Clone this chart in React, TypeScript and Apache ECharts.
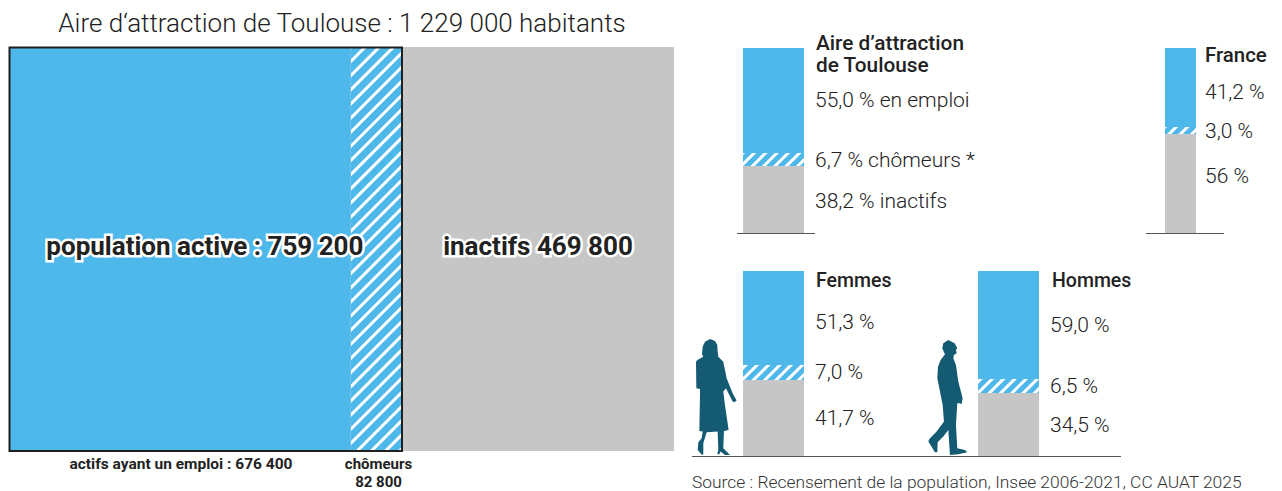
import React, { useEffect, useRef } from "react";
import * as echarts from "echarts";

// Segment shares as drawn in the picture (employed, unemployed, inactive)
const mainShares = [51.4, 7.7, 40.9];
const toulouseShares = [56.8, 7.0, 36.2];
const franceShares = [42.7, 3.8, 53.5];
const femmesShares = [50.8, 8.1, 41.1];
const hommesShares = [58.4, 7.6, 34.0];

// Printed labels
const chartTitle = "Aire d‘attraction de Toulouse : 1 229 000 habitants";
const mainActiveLabel = "population active : 759 200";
const mainInactiveLabel = "inactifs 469 800";
const employedCaption = "actifs ayant un emploi : 676 400";
const unemployedCaption = "chômeurs\n82 800";
const toulouseLabels = ["55,0 % en emploi", "6,7 % chômeurs *", "38,2 % inactifs"];
const franceLabels = ["41,2 %", "3,0 %", "56 %"];
const femmesLabels = ["51,3 %", "7,0 %", "41,7 %"];
const hommesLabels = ["59,0 %", "6,5 %", "34,5 %"];
const toulouseTitle = "Aire d’attraction\nde Toulouse";
const franceTitle = "France";
const femmesTitle = "Femmes";
const hommesTitle = "Hommes";
const sourceText = "Source : Recensement de la population, Insee 2006-2021, CC AUAT 2025";

const BLUE = "#4FB8EA";
const GREY = "#C6C6C6";
const INK = "#222222";
const TEAL = "#155A73";
const FONT = "Roboto";

const womanPath =
  "M60 12 L45 20 L38 35 L36 58 L40 65 L22 75 L18 80 L19 160 L30 162 L30 180 L28 288 L38 290 L35 310 L25 322 L23 345 L36 360 L40 358 L40 325 L50 292 L83 290 L85 345 L82 358 L88 358 L92 350 L105 360 L120 360 L112 352 L100 340 L102 288 L116 285 L105 210 L100 170 L108 160 L123 190 L128 200 L133 202 L140 197 L128 175 L110 130 L100 80 L85 65 L83 50 L82 30 L75 18 Z";
const manPath =
  "M85 15 L70 25 L67 40 L72 52 L75 58 L62 75 L54 95 L52 130 L60 170 L68 210 L72 260 L50 290 L28 312 L25 320 L45 352 L52 352 L53 322 L70 305 L85 285 L90 360 L115 358 L142 352 L135 345 L112 340 L108 270 L112 205 L118 205 L125 207 L128 190 L115 140 L108 90 L100 70 L102 60 L110 55 L108 45 L112 40 L104 25 Z";
echarts.graphic.registerShape("woman", echarts.graphic.extendPath(womanPath, {}) as any);
echarts.graphic.registerShape("man", echarts.graphic.extendPath(manPath, {}) as any);

const decal = (gap: number, stripe: number) => ({
  symbol: "rect",
  symbolSize: 1,
  dashArrayX: [1, 0],
  dashArrayY: [stripe, gap],
  rotation: -Math.PI / 4,
  color: "#ffffff",
});

type Panel = { left: number; top: number; width: number; height: number; shares: number[]; labels: string[]; dist: number; offsets?: number[][] };

const panels: Panel[] = [
  { left: 743, top: 48, width: 61, height: 185, shares: toulouseShares, labels: toulouseLabels, dist: 11, offsets: [[0, -1], [0, 0], [0, 1]] },
  { left: 1165, top: 48, width: 31, height: 185, shares: franceShares, labels: franceLabels, dist: 9, offsets: [[0, 5], [0, 0], [0, -8]] },
  { left: 743, top: 271, width: 61, height: 185, shares: femmesShares, labels: femmesLabels, dist: 11, offsets: [[0, 4], [0, 0], [0, 0]] },
  { left: 978, top: 271, width: 61, height: 185, shares: hommesShares, labels: hommesLabels, dist: 11 },
];

function buildOption() {
  const grids: any[] = [{ left: 9, top: 47, width: 665, height: 404 }];
  const xAxes: any[] = [{ gridIndex: 0, type: "value", min: 0, max: 100, show: false }];
  const yAxes: any[] = [{ gridIndex: 0, type: "category", data: ["Toulouse"], show: false }];
  const big = { fontFamily: FONT, fontWeight: 700, fontSize: 26, color: "#222", textBorderColor: "#fff", textBorderWidth: 5 };
  const series: any[] = [
    { type: "bar", stack: "main", xAxisIndex: 0, yAxisIndex: 0, barWidth: "100%", data: [mainShares[0]], itemStyle: { color: BLUE },
      label: { show: true, position: "inside", offset: [25, -3], formatter: mainActiveLabel, ...big }, z: 2 },
    { type: "bar", stack: "main", xAxisIndex: 0, yAxisIndex: 0, data: [mainShares[1]], itemStyle: { color: BLUE, decal: decal(6.5, 2.5) }, z: 1 },
    { type: "bar", stack: "main", xAxisIndex: 0, yAxisIndex: 0, data: [mainShares[2]], itemStyle: { color: GREY },
      label: { show: true, position: "inside", offset: [0, -3], formatter: mainInactiveLabel, ...big }, z: 2 },
  ];
  panels.forEach((p, i) => {
    const g = i + 1;
    grids.push({ left: p.left, top: p.top, width: p.width, height: p.height });
    xAxes.push({ gridIndex: g, type: "category", data: ["part"], show: false });
    yAxes.push({ gridIndex: g, type: "value", min: 0, max: 100, show: false });
    // stacked from the bottom: inactive, unemployed, employed
    [2, 1, 0].forEach((k) => {
      series.push({
        type: "bar", stack: "p" + g, xAxisIndex: g, yAxisIndex: g, barWidth: "100%",
        data: [p.shares[k]],
        itemStyle: k === 1 ? { color: BLUE, decal: decal(4.5, 2.5) } : { color: k === 0 ? BLUE : GREY },
        label: {
          show: true, position: "right", distance: p.dist, formatter: p.labels[k],
          offset: p.offsets ? p.offsets[k] : [0, 0],
          fontFamily: FONT, fontWeight: 300, fontSize: 21, color: INK,
        },
      });
    });
  });

  const axisLine = (x1: number, x2: number, y: number) => ({
    type: "line", shape: { x1, y1: y, x2, y2: y }, style: { stroke: "#555", lineWidth: 1 }, silent: true,
  });
  const graphic: any[] = [
    { type: "text", x: 342, y: 23, style: { text: chartTitle, fontFamily: FONT, fontWeight: 300, fontSize: 26, fill: INK, align: "center", verticalAlign: "middle" } },
    { type: "rect", z: 100, shape: { x: 9.5, y: 47.5, width: 392.5, height: 403.5 }, style: { fill: "none", stroke: "#1f1f1f", lineWidth: 2 } },
    { type: "text", x: 181, y: 464, style: { text: employedCaption, fontFamily: FONT, fontWeight: 700, fontSize: 15.5, fill: INK, align: "center", verticalAlign: "middle" } },
    { type: "text", x: 378.5, y: 473, style: { text: unemployedCaption, fontFamily: FONT, fontWeight: 700, fontSize: 15, lineHeight: 18, fill: INK, align: "center", verticalAlign: "middle" } },
    { type: "text", x: 816, y: 54, style: { text: toulouseTitle, fontFamily: FONT, fontWeight: 500, fontSize: 20.8, lineHeight: 22, fill: INK, verticalAlign: "middle" } },
    { type: "text", x: 1205, y: 55, style: { text: franceTitle, fontFamily: FONT, fontWeight: 500, fontSize: 20.4, fill: INK, verticalAlign: "middle" } },
    { type: "text", x: 816, y: 280, style: { text: femmesTitle, fontFamily: FONT, fontWeight: 500, fontSize: 19.5, fill: INK, verticalAlign: "middle" } },
    { type: "text", x: 1052, y: 280, style: { text: hommesTitle, fontFamily: FONT, fontWeight: 500, fontSize: 19.5, fill: INK, verticalAlign: "middle" } },
    { type: "text", x: 692, y: 482, style: { text: sourceText, fontFamily: FONT, fontWeight: 300, fontSize: 17.4, fill: "#333", verticalAlign: "middle" } },
    axisLine(737, 815, 233.5),
    axisLine(1146, 1224, 233.5),
    axisLine(692, 1121, 456.5),
    { type: "woman", x: 690, y: 335, scaleX: 1 / 3, scaleY: 1 / 3, style: { fill: TEAL } },
    { type: "man", x: 920, y: 335, scaleX: 1 / 3, scaleY: 1 / 3, style: { fill: TEAL } },
  ];
  return { animation: false, backgroundColor: "#fff", grid: grids, xAxis: xAxes, yAxis: yAxes, series, graphic };
}

export default function App() {
  const ref = useRef<HTMLDivElement>(null);
  useEffect(() => {
    const chart = echarts.init(ref.current!, undefined, { renderer: "svg" });
    chart.setOption(buildOption() as any);
    return () => chart.dispose();
  }, []);
  return <div ref={ref} style={{ position: "fixed", left: 0, top: 0, width: 1282, height: 491 }} />;
}
